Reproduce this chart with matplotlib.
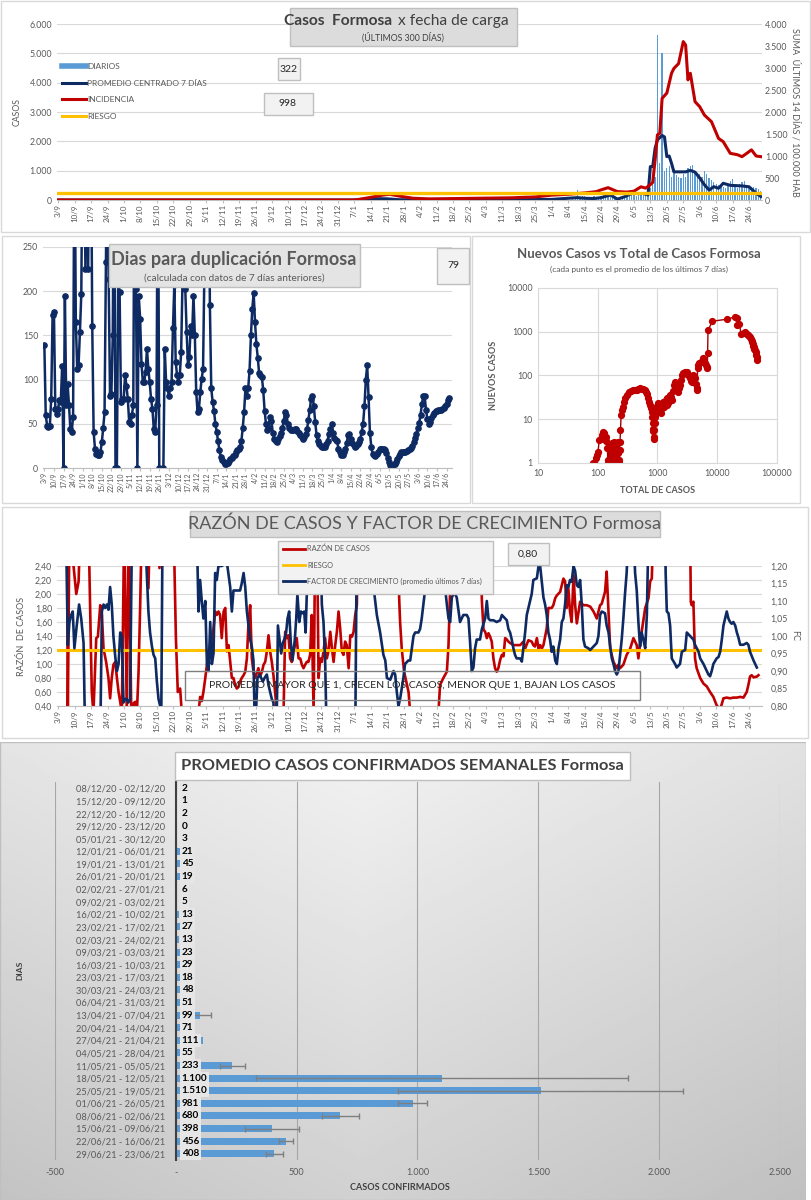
import matplotlib
matplotlib.use("Agg")
import matplotlib.pyplot as plt
import numpy as np
from matplotlib.lines import Line2D
from matplotlib.patches import Rectangle
from matplotlib.ticker import FuncFormatter

plt.rcParams["font.family"] = ["Lato", "DejaVu Sans"]

W, H = 812, 1200
NAVY = "#0E2A63"
RED = "#C00000"
YELLOW = "#FFC000"
LBLUE = "#5B9BD5"
GRID = "#D9D9D9"
TXT = "#595959"

# ---------------- data ----------------
# weekly tick labels, day 0 = 3/9/2020
semanas = ["3/9", "10/9", "17/9", "24/9", "1/10", "8/10", "15/10", "22/10", "29/10",
           "5/11", "12/11", "19/11", "26/11", "3/12", "10/12", "17/12", "24/12", "31/12",
           "7/1", "14/1", "21/1", "28/1", "4/2", "11/2", "18/2", "25/2", "4/3", "11/3",
           "18/3", "25/3", "1/4", "8/4", "15/4", "22/4", "29/4", "6/5", "13/5", "20/5",
           "27/5", "3/6", "10/6", "17/6", "24/6"]

# daily cases from 10/4/2021 (day 219) to 29/6/2021
diarios_inicio = 219
diarios = [60, 90, 340, 80, 120, 150, 90, 70, 110, 130, 90, 100, 140, 160, 120, 90, 110, 150, 80, 60, 100,
           120, 90, 140, 160, 180, 200, 150, 220, 250, 180, 240, 300, 420, 700, 800, 5620, 1250, 5000,
           1000, 1100, 1150, 800, 1050, 850, 780, 760, 900, 800, 1080, 1150, 1200,
           1000, 850, 900, 780, 1000, 870, 760, 680, 620, 560, 520, 480, 450, 420, 500, 650, 700, 480,
           400, 540, 600, 650, 450, 460, 420, 440, 400, 380, 300]

# 7-day centred average (day, cases)
prom7_pts = [(0, 0), (126, 0), (131, 30), (136, 45), (140, 40), (145, 10), (151, 5), (179, 10),
             (203, 15), (210, 20), (217, 60), (221, 80), (224, 60), (228, 50), (231, 80), (235, 170),
             (238, 30), (241, 110), (244, 220), (249, 220), (251, 170), (252, 1140), (253, 1140),
             (254, 1760), (255, 2050), (257, 2200), (258, 2150), (259, 1480), (260, 1500), (261, 1250),
             (262, 960), (267, 960), (269, 1010), (271, 950), (273, 750), (275, 520), (277, 340),
             (279, 455), (281, 400), (283, 570), (286, 500), (291, 480), (294, 450), (297, 230), (299, 120)]

# 14-day incidence per 100.000 (day, value)
inc_pts = [(0, 0), (125, 0), (127, 5), (133, 60), (138, 110), (141, 130), (145, 90), (151, 40),
           (158, 25), (165, 30), (179, 40), (193, 50), (203, 70), (210, 110), (217, 130), (224, 160),
           (229, 190), (231, 230), (234, 280), (238, 190), (242, 180), (245, 200), (248, 300),
           (250, 270), (252, 350), (253, 400), (254, 900), (255, 1480), (256, 1515), (257, 2310),
           (259, 2430), (261, 2880), (262, 2990), (264, 3100), (266, 3600), (267, 3520), (268, 2730),
           (269, 2880), (271, 2235), (273, 2120), (275, 1930), (278, 1780), (281, 1400), (283, 1325),
           (286, 1060), (289, 1030), (291, 985), (293, 1060), (295, 1140), (297, 1000), (299, 985)]
riesgo_inc = 160
valor_diario = "322"
valor_inc = "998"

# days to doubling, one value per day from 3/9/2020 (values > 250 are off-scale)
nan = np.nan
duplicacion = [139, 60, 48, 46, 48, 78, 173, 176, 67, 61,
               67, 77, 75, 115, 0, 195, 71, 95, 71, 44,
               41, 58, 400, 165, 112, 116, 154, 197, 400, 400,
               225, 400, 225, 400, 400, 161, 41, 22, 16, 15,
               15, 18, 29, 45, 63, 233, 400, 214, 82, 84,
               150, 400, 0, 0, 214, 199, 75, 78, 78, 105,
               93, 78, 52, 50, 60, 71, 400, 203, 0, 195,
               169, 118, 97, 97, 109, 135, 112, 97, 78, 67,
               44, 41, 71, 400, 0, nan, nan, 0, 135, 97,
               90, 82, 90, 97, 158, 207, 120, 105, 97, 105,
               131, 214, 400, 203, 154, 116, 126, 161, 150, 195,
               150, 86, 63, 67, 86, 101, 112, 225, 400, 400,
               400, 184, 90, 75, 65, 50, 41, 30, 20, 12,
               9, 7, 5, 5, 6, 8, 10, 11, 14, 15,
               18, 20, 22, 24, 30, 45, 63, 90, 82, 90,
               110, 150, 180, 198, 165, 140, 125, 107, 105, 103,
               88, 65, 50, 43, 45, 58, 53, 40, 33, 30,
               29, 33, 36, 40, 45, 53, 63, 60, 50, 45,
               43, 43, 43, 44, 44, 42, 40, 37, 35, 33,
               35, 38, 44, 54, 66, 78, 82, 70, 52, 37,
               30, 27, 25, 24, 24, 24, 27, 31, 38, 44,
               50, 40, 34, 32, 30, 22, 18, 15, 15, 18,
               22, 28, 37, 38, 33, 28, 26, 24, 25, 27,
               29, 33, 41, 50, 70, 100, 116, 80, 40, 24,
               16, 15, 14, 16, 18, 21, 22, 22, 22, 20,
               17, 11, 7, 3, 2, 3, 5, 7, 10, 14,
               16, 18, 18, 18, 18, 19, 20, 21, 23, 25,
               29, 34, 39, 45, 51, 60, 72, 82, 81, 66,
               55, 50, 52, 56, 60, 62, 64, 65, 66, 66,
               66, 67, 68, 70, 72, 77, 79]
valor_dup = "79"

# (total cases, new cases 7-day average)
nuevos_vs_total = [(84, 1.0), (88, 1.0), (93, 1.3), (97, 1.5), (101, 1.8), (106, 3.4), (112, 3.6),
                   (118, 4.4), (123, 5.1), (129, 4.9), (135, 4.0), (140, 3.2), (145, 2.2), (148, 1.0),
                   (150, 1.2), (155, 2.5), (158, 1.0), (162, 2.0), (166, 1.0), (170, 1.6), (175, 2.8),
                   (178, 1.0), (182, 1.8), (186, 1.2), (190, 3.0), (194, 1.0), (198, 2.2), (202, 1.4),
                   (206, 2.9), (210, 1.0), (215, 1.7), (220, 3.1), (224, 1.2), (228, 1.0), (232, 2.0),
                   (236, 3.1), (240, 5.7), (246, 12.6), (252, 16), (260, 19.5), (274, 25), (290, 31),
                   (303, 36), (334, 43), (360, 45), (392, 46), (420, 46), (446, 47), (480, 49),
                   (508, 51), (545, 50), (578, 49), (610, 46), (640, 43), (670, 38), (702, 30),
                   (725, 25), (749, 21), (770, 18), (798, 15), (815, 11), (830, 8.1), (845, 6),
                   (855, 5.3), (870, 4.0), (877, 3.6), (890, 5.7), (900, 8), (908, 11.5), (930, 14),
                   (967, 16.4), (1000, 20), (1030, 23), (1060, 17), (1100, 19.5), (1140, 14),
                   (1180, 17.8), (1220, 21), (1260, 25), (1300, 19), (1340, 23), (1380, 27),
                   (1430, 30), (1470, 21), (1520, 23), (1570, 30), (1620, 36), (1670, 32), (1720, 28),
                   (1800, 45), (1890, 61), (1970, 72), (2030, 62), (2100, 51), (2160, 47), (2240, 43),
                   (2300, 52), (2380, 61), (2450, 80), (2530, 102), (2690, 112), (2850, 118),
                   (3060, 122), (3300, 102), (3500, 86), (3600, 75), (3740, 72), (3850, 90),
                   (3980, 102), (4100, 95), (4240, 86), (4400, 65), (4540, 51), (4600, 47),
                   (4680, 146), (4850, 175), (5040, 189), (5300, 200), (5520, 206), (5700, 225),
                   (5880, 246), (6050, 215), (6250, 189), (6500, 170), (6680, 146), (6810, 158),
                   (6900, 320), (7000, 1080), (8320, 1740), (14500, 1935), (19950, 2190), (21000, 2100),
                   (21800, 1420), (23500, 1500), (25000, 912), (27500, 950), (29500, 1000), (31400, 912),
                   (33000, 850), (34500, 800), (35800, 766), (36800, 680), (37500, 620), (38000, 590),
                   (39000, 520), (39500, 480), (40800, 453), (41500, 400), (42500, 380), (43700, 350),
                   (44500, 290), (45500, 260), (46700, 225)]

# case ratio (day, value); 3.0 / 0.3 = off the 0,40-2,40 scale
razon_pts = [(3.7, 3.0), (4.1, 0.3), (4.8, 3.0), (7.7, 2.0), (8.7, 2.18), (9.4, 3.0), (12.9, 3.0),
             (14.3, 0.6), (15.0, 0.3), (16.2, 1.37), (16.9, 1.39), (17.9, 1.84), (18.6, 1.7),
             (19.3, 1.22), (20.4, 1.03), (21.4, 0.8), (22.1, 0.51), (22.8, 0.8), (23.5, 0.99),
             (24.3, 1.03), (25.0, 0.8), (25.7, 0.6), (26.4, 0.46), (27.1, 0.3), (28.1, 3.0),
             (29.2, 0.3), (30.0, 3.0), (31.1, 0.3), (32.1, 0.44), (32.8, 0.46), (33.5, 0.3),
             (34.2, 0.89), (34.9, 1.84), (35.6, 3.0), (37.7, 3.0), (38.4, 2.08), (39.1, 3.0),
             (42.7, 3.0), (43.1, 2.37), (44.1, 3.0), (49.1, 3.0), (50.1, 1.37), (50.9, 0.6),
             (51.9, 0.65), (52.6, 0.3), (59.7, 0.3), (60.4, 0.53), (61.1, 0.47), (61.8, 0.6),
             (62.6, 0.8), (63.3, 0.99), (64.0, 1.13), (64.7, 1.22), (66.1, 1.51), (66.8, 1.75),
             (67.5, 1.7), (68.2, 1.75), (68.9, 1.7), (69.6, 1.37), (70.4, 1.75), (71.1, 1.8),
             (71.8, 1.18), (72.5, 1.27), (73.2, 1.03), (73.9, 0.8), (74.6, 0.8), (75.3, 0.7),
             (76.0, 0.65), (76.7, 0.67), (77.4, 0.75), (78.1, 0.8), (78.9, 0.84), (79.6, 0.89),
             (80.3, 1.08), (81.0, 1.6), (81.7, 1.84), (82.4, 1.08), (83.1, 0.89), (83.8, 0.8),
             (84.5, 0.87), (85.2, 0.94), (85.9, 0.82), (86.7, 0.89), (87.4, 0.99), (88.1, 1.03),
             (88.8, 1.18), (89.5, 1.41), (90.2, 1.18), (90.9, 1.03), (91.6, 0.84), (92.3, 0.6),
             (93.1, 0.3), (95.9, 0.3), (96.6, 1.46), (97.3, 1.37), (98.0, 1.41), (98.7, 1.08),
             (99.4, 1.03), (100.1, 1.18), (100.8, 1.27), (101.5, 1.37), (102.3, 1.08), (103.0, 1.08),
             (103.7, 0.99), (104.4, 0.94), (105.1, 0.99), (105.8, 1.03), (106.5, 1.03), (107.2, 1.13),
             (107.9, 1.7), (108.7, 0.3), (109.4, 3.0), (110.1, 3.0), (110.8, 0.8), (111.5, 1.08),
             (112.2, 1.03), (112.9, 1.18), (113.6, 1.37), (114.3, 1.08), (115.0, 1.18), (115.8, 1.46),
             (116.5, 1.22), (117.2, 1.03), (117.9, 1.27), (118.6, 1.46), (119.3, 1.75), (120.0, 1.51),
             (120.7, 1.18), (121.4, 1.13), (122.1, 1.32), (122.8, 1.27), (123.6, 0.94), (124.3, 1.41),
             (125.0, 1.39), (125.7, 1.46), (126.4, 1.7), (127.1, 1.84), (127.6, 3.0), (144.8, 3.0),
             (145.1, 1.94), (145.5, 1.6), (146.2, 1.22), (147.2, 0.89), (148.1, 0.75), (149.1, 0.6),
             (149.8, 0.3), (161.8, 0.3), (162.5, 0.7), (163.9, 0.8), (165.4, 0.89), (166.1, 1.27),
             (166.8, 2.08), (167.5, 3.0), (179.5, 3.0), (180.3, 1.9), (181.0, 1.49), (181.7, 1.46),
             (182.4, 1.37), (183.1, 1.44), (183.8, 1.39), (184.5, 1.32), (185.2, 1.08), (185.9, 0.94),
             (186.6, 0.89), (187.3, 0.94), (188.1, 1.06), (188.8, 1.13), (189.5, 1.11), (190.2, 1.37),
             (190.9, 1.35), (191.6, 1.32), (192.3, 1.3), (193.7, 1.27), (195.1, 1.27), (196.6, 1.27),
             (198.0, 1.32), (198.7, 1.22), (200.1, 1.34), (201.5, 1.32), (202.2, 1.27), (202.9, 1.25),
             (203.7, 1.37), (204.4, 1.22), (205.1, 1.27), (205.8, 1.22), (206.5, 1.27), (207.9, 1.51),
             (208.6, 1.8), (210.0, 1.8), (210.7, 1.84), (211.5, 1.94), (212.2, 1.98), (213.6, 2.03),
             (215.0, 2.22), (215.7, 2.18), (216.4, 1.8), (217.1, 2.08), (217.8, 1.75), (218.5, 1.6),
             (219.3, 2.27), (220.0, 1.84), (220.7, 1.58), (222.1, 1.89), (223.5, 1.84), (224.9, 1.84),
             (226.4, 1.82), (227.8, 1.75), (229.2, 1.65), (229.9, 1.75), (230.6, 1.84), (231.3, 1.86),
             (232.7, 2.03), (233.4, 2.32), (234.2, 1.75), (234.9, 1.22), (236.3, 1.03), (237.7, 0.94),
             (238.4, 0.99), (239.1, 0.94), (240.5, 0.99), (241.9, 1.13), (243.4, 1.22), (244.8, 1.37),
             (246.2, 1.27), (246.9, 1.08), (247.6, 1.27), (248.3, 1.46), (249.8, 1.8), (251.2, 1.94),
             (251.9, 2.18), (252.6, 2.22), (253.3, 3.0), (268.9, 3.0), (269.2, 1.89), (269.6, 1.84),
             (270.3, 1.89), (271.0, 1.08), (271.7, 0.94), (273.2, 0.8), (274.6, 0.72), (276.0, 0.68),
             (277.4, 0.6), (278.8, 0.53), (280.2, 0.41), (281.7, 0.35), (283.1, 0.51), (284.5, 0.52),
             (285.9, 0.51), (287.3, 0.52), (288.8, 0.52), (290.2, 0.53), (291.6, 0.52), (293.0, 0.6),
             (293.7, 0.7), (294.4, 0.82), (295.1, 0.84), (295.9, 0.81), (297.3, 0.82), (298.0, 0.84)]
riesgo_razon = 1.2
valor_fc = "0,80"

# growth factor, 7-day average (day, value); 1.3 / 0.7 = off the 0,80-1,20 scale
fc_pts = [(3.4, 1.3), (4.1, 0.974), (4.8, 1.04), (5.5, 1.06), (6.2, 1.07), (6.9, 0.965), (7.9, 1.03),
          (8.9, 1.09), (9.8, 1.05), (10.8, 0.98), (11.5, 0.7), (17.9, 0.7), (18.6, 1.07), (19.3, 1.09),
          (20.0, 1.08), (20.7, 1.09), (21.4, 1.075), (22.1, 1.14), (22.8, 1.09), (23.5, 1.0),
          (24.3, 0.94), (25.0, 0.9), (25.7, 0.92), (26.4, 1.01), (27.1, 1.0), (27.8, 0.81),
          (28.5, 0.82), (29.2, 0.82), (29.9, 0.81), (30.6, 0.82), (31.4, 1.3), (37.0, 1.3),
          (37.7, 1.18), (38.4, 1.07), (39.1, 1.01), (39.9, 0.97), (40.6, 0.946), (41.3, 0.936),
          (42.0, 0.87), (42.7, 0.82), (43.4, 0.8), (43.8, 0.7), (44.4, 1.3), (59.0, 1.3),
          (59.7, 1.07), (60.4, 1.16), (61.1, 1.1), (61.8, 1.05), (62.6, 1.1), (63.3, 0.92),
          (64.0, 0.9), (64.7, 1.04), (65.4, 0.92), (66.1, 0.95), (66.8, 1.18), (67.5, 1.16),
          (68.2, 1.2), (69.6, 1.2), (71.8, 1.21), (73.2, 1.14), (73.9, 1.07), (74.6, 1.13),
          (76.0, 1.13), (77.4, 1.13), (78.1, 1.15), (78.9, 1.18), (79.6, 1.14), (80.3, 1.07),
          (81.0, 1.03), (81.7, 0.99), (82.4, 0.97), (83.1, 0.93), (83.8, 0.7), (84.3, 0.8),
          (84.8, 0.88), (85.7, 0.89), (86.4, 0.88), (87.1, 0.87), (87.8, 0.88), (88.8, 0.89),
          (89.5, 0.86), (90.2, 0.84), (90.9, 0.82), (91.6, 0.81), (92.3, 0.7), (93.1, 0.81),
          (93.5, 1.03), (94.2, 0.99), (94.9, 0.95), (95.6, 0.98), (96.2, 0.99), (97.0, 1.01),
          (97.6, 1.05), (98.3, 1.07), (99.0, 0.98), (99.7, 0.93), (100.1, 0.955), (100.7, 0.99),
          (101.3, 1.05), (101.8, 1.12), (102.6, 1.04), (103.3, 1.07), (104.0, 1.065), (104.7, 1.07),
          (105.3, 1.01), (105.8, 1.12), (106.5, 1.3), (111.5, 1.3), (112.2, 1.09), (112.9, 1.04),
          (113.6, 0.93), (114.3, 0.7), (126.4, 0.7), (127.1, 1.3), (133.5, 1.3), (134.2, 1.14),
          (135.6, 1.06), (137.0, 1.01), (138.4, 0.946), (139.2, 0.93), (139.9, 0.88), (141.3, 0.875),
          (142.7, 0.9), (143.4, 0.89), (144.1, 0.84), (144.8, 0.8), (145.5, 0.82), (146.9, 0.88),
          (147.6, 0.92), (149.0, 0.93), (149.8, 0.93), (150.5, 0.965), (151.2, 1.0), (151.9, 1.01),
          (153.3, 1.01), (154.0, 1.02), (154.7, 1.05), (155.4, 1.09), (156.1, 1.13), (156.9, 1.2),
          (157.1, 1.3), (163.9, 1.3), (164.6, 1.14), (165.4, 1.09), (166.1, 1.05), (166.8, 1.04),
          (167.5, 1.11), (168.2, 1.12), (168.9, 1.12), (169.6, 1.11), (171.0, 1.04), (172.4, 1.06),
          (173.9, 1.06), (174.6, 1.05), (175.3, 0.98), (176.0, 0.9), (176.7, 0.91), (177.4, 0.965),
          (178.1, 0.99), (179.5, 0.99), (180.3, 1.02), (181.7, 1.05), (182.4, 1.1), (183.1, 1.05),
          (183.8, 1.045), (185.2, 1.045), (186.6, 1.04), (188.1, 1.045), (188.8, 1.06), (190.2, 1.05),
          (190.9, 1.045), (191.6, 1.02), (192.3, 1.01), (193.0, 0.99), (193.7, 0.965), (194.4, 0.946),
          (195.1, 0.936), (196.6, 0.936), (197.3, 0.927), (198.7, 1.01), (199.4, 1.06), (200.1, 1.08),
          (201.5, 1.12), (202.2, 1.16), (203.7, 1.165), (204.4, 1.2), (205.1, 1.2), (205.8, 1.155),
          (206.5, 1.11), (207.2, 1.09), (207.9, 1.06), (208.6, 1.01), (209.3, 0.99), (210.0, 0.955),
          (210.7, 0.97), (211.5, 0.93), (212.2, 0.92), (212.9, 0.965), (213.6, 0.99), (214.3, 1.04),
          (215.0, 1.05), (215.7, 1.09), (216.4, 1.145), (217.1, 1.14), (217.8, 1.16), (218.5, 1.155),
          (219.3, 1.2), (220.0, 1.185), (220.7, 1.145), (221.4, 1.14), (222.1, 1.16), (222.8, 1.09),
          (223.5, 0.99), (224.2, 0.97), (225.6, 0.965), (226.4, 0.96), (227.8, 0.97), (229.2, 0.98),
          (229.9, 1.0), (230.6, 1.06), (231.3, 1.07), (232.7, 1.065), (233.4, 1.03), (234.2, 1.01),
          (234.9, 0.97), (235.6, 0.936), (236.3, 0.92), (237.0, 0.9), (237.7, 0.89), (238.4, 0.9),
          (239.1, 0.946), (239.8, 0.99), (240.5, 1.05), (241.2, 1.12), (241.9, 1.18), (242.7, 1.3),
          (244.8, 1.3), (245.5, 1.18), (246.2, 1.13), (246.9, 1.04), (247.6, 0.97), (248.3, 1.01),
          (249.0, 0.99), (249.8, 0.965), (250.5, 1.06), (251.2, 1.3), (258.3, 1.3), (258.5, 1.18),
          (259.0, 1.07), (259.7, 1.065), (260.4, 1.03), (261.1, 0.936), (262.5, 0.92), (263.2, 0.91),
          (264.6, 0.92), (265.4, 0.955), (266.8, 0.96), (267.5, 1.01), (268.9, 1.0), (270.3, 0.99),
          (271.0, 0.975), (272.5, 0.955), (273.2, 0.936), (274.6, 0.92), (276.0, 0.9), (276.7, 0.89),
          (277.4, 0.885), (278.1, 0.9), (278.8, 0.92), (280.2, 0.936), (281.0, 0.94), (281.7, 0.955),
          (282.4, 0.99), (283.1, 1.03), (283.8, 1.05), (284.5, 1.07), (285.2, 1.05), (285.9, 1.04),
          (286.6, 1.035), (287.3, 1.04), (288.1, 1.03), (288.8, 1.01), (289.5, 0.995), (290.2, 0.975),
          (291.6, 0.975), (293.0, 0.98), (293.7, 0.975), (294.4, 0.955), (295.9, 0.93), (297.3, 0.91)]

# weekly average of confirmed cases
semanas_conf = ["08/12/20 - 02/12/20", "15/12/20 - 09/12/20", "22/12/20 - 16/12/20",
                "29/12/20 - 23/12/20", "05/01/21 - 30/12/20", "12/01/21 - 06/01/21",
                "19/01/21 - 13/01/21", "26/01/21 - 20/01/21", "02/02/21 - 27/01/21",
                "09/02/21 - 03/02/21", "16/02/21 - 10/02/21", "23/02/21 - 17/02/21",
                "02/03/21 - 24/02/21", "09/03/21 - 03/03/21", "16/03/21 - 10/03/21",
                "23/03/21 - 17/03/21", "30/03/21 - 24/03/21", "06/04/21 - 31/03/21",
                "13/04/21 - 07/04/21", "20/04/21 - 14/04/21", "27/04/21 - 21/04/21",
                "04/05/21 - 28/04/21", "11/05/21 - 05/05/21", "18/05/21 - 12/05/21",
                "25/05/21 - 19/05/21", "01/06/21 - 26/05/21", "08/06/21 - 02/06/21",
                "15/06/21 - 09/06/21", "22/06/21 - 16/06/21", "29/06/21 - 23/06/21"]
prom_semanal = [2, 1, 2, 0, 3, 21, 45, 19, 6, 5, 13, 27, 13, 23, 29, 18, 48, 51, 99, 71, 111, 55,
                233, 1100, 1510, 981, 680, 398, 456, 408]
error_semanal = [0, 0, 0, 0, 0, 0, 0, 0, 0, 0, 0, 0, 0, 0, 0, 0, 0, 0, 48, 0, 0, 0,
                 52, 770, 590, 60, 77, 111, 29, 36]


# ---------------- helpers ----------------
def miles(v, _=None):
    return f"{v:,.0f}".replace(",", ".")


def coma(v, _=None):
    return f"{v:.2f}".replace(".", ",")


fig = plt.figure(figsize=(W / 100, H / 100), dpi=100)


def axes_px(x0, y0, x1, y1):
    return fig.add_axes([x0 / W, 1 - y1 / H, (x1 - x0) / W, (y1 - y0) / H])


def box_px(x0, y0, x1, y1, fc="none", ec="#D9D9D9", lw=1.0, z=0):
    fig.patches.append(Rectangle((x0 / W, 1 - y1 / H), (x1 - x0) / W, (y1 - y0) / H,
                                 transform=fig.transFigure, fc=fc, ec=ec, lw=lw, zorder=z))


def text_px(x, y, s, **kw):
    kw.setdefault("ha", "center")
    kw.setdefault("va", "center")
    fig.text(x / W, 1 - y / H, s, **kw)


def estilo(ax, grid_axis="y"):
    for s in ax.spines.values():
        s.set_visible(False)
    ax.spines["bottom"].set_visible(True)
    ax.spines["bottom"].set_color("#BFBFBF")
    ax.tick_params(colors=TXT, labelsize=6.3, length=0)
    ax.grid(axis=grid_axis, color=GRID, lw=0.8)
    ax.set_axisbelow(True)


def ejes_fecha(ax, size=5.8):
    ax.set_xticks(np.arange(len(semanas)) * 7)
    ax.set_xticklabels(semanas, rotation=90)
    ax.tick_params(axis="x", length=2, color="#BFBFBF", labelsize=size, pad=1)


# panel frames
box_px(1, 1, 810, 232)
box_px(2, 236, 470, 503)
box_px(472, 236, 800, 503)
box_px(2, 507, 808, 738)

# ---------------- panel 1: cases by load date ----------------
ax1 = axes_px(57, 24, 762, 200)
estilo(ax1)
dias_diarios = diarios_inicio + np.arange(len(diarios))
ax1.bar(dias_diarios, diarios, width=0.55, color=LBLUE, zorder=2)
pd7 = np.array(prom7_pts).T
ax1.plot(pd7[0], pd7[1], color=NAVY, lw=2.2, zorder=3)
ax1.set_xlim(-0.5, 299.5)
ax1.set_ylim(0, 6000)
ax1.set_yticks(np.arange(0, 6001, 1000))
ax1.yaxis.set_major_formatter(FuncFormatter(miles))
ejes_fecha(ax1)
ax1.set_ylabel("CASOS", fontsize=6.3, color=TXT, labelpad=6)

ax1b = ax1.twinx()
for s in ax1b.spines.values():
    s.set_visible(False)
pin = np.array(inc_pts).T
ax1b.plot(pin[0], pin[1], color=RED, lw=2.2, zorder=3)
ax1b.axhline(riesgo_inc, color=YELLOW, lw=2.4, zorder=4)
ax1b.set_ylim(0, 4000)
ax1b.set_yticks(np.arange(0, 4001, 500))
ax1b.yaxis.set_major_formatter(FuncFormatter(miles))
ax1b.tick_params(colors=TXT, labelsize=6.3, length=0, pad=2)
ax1b.set_ylabel("SUMA  ÚLTIMOS 14 DÍAS / 100.000 HAB", fontsize=6.5, color=TXT,
                rotation=270, labelpad=9)

handles = [Line2D([], [], color=LBLUE, lw=4), Line2D([], [], color=NAVY, lw=2.2),
           Line2D([], [], color=RED, lw=2.2), Line2D([], [], color=YELLOW, lw=2.2)]
fig.legend(handles, ["DIARIOS", "PROMEDIO CENTRADO 7 DÍAS", "INCIDENCIA", "RIESGO"],
           loc="upper left", bbox_to_anchor=(62 / W, 1 - 63 / H), frameon=False,
           fontsize=6, handlelength=2.9, handletextpad=0.1, labelspacing=1.15,
           borderaxespad=0, borderpad=0, labelcolor=TXT)

box_px(290, 8, 517, 46, fc="#DCDCDC", ec="#BFBFBF", z=3)
text_px(392, 21, "Casos  Formosa", ha="right", fontsize=11.2, fontweight="bold", color="#404040", zorder=4)
text_px(398, 21, "x fecha de carga", ha="left", fontsize=11.2, color="#404040", zorder=4)
text_px(403, 37, "(ÚLTIMOS 300 DÍAS)", fontsize=6.3, color="#404040", zorder=4)
box_px(278, 58, 300, 80, fc="#F2F2F2", ec="#BFBFBF", z=3)
text_px(289, 69, valor_diario, fontsize=7.5, color="#262626", zorder=4)
box_px(264, 93, 313, 115, fc="#F2F2F2", ec="#BFBFBF", z=3)
text_px(288, 104, valor_inc, fontsize=7.5, color="#262626", zorder=4)

# ---------------- panel 2: doubling time ----------------
ax2 = axes_px(43, 247, 452, 468)
estilo(ax2)
ax2.plot(np.arange(len(duplicacion)), duplicacion, color=NAVY, lw=1.8,
         marker="o", ms=3.8, mec=NAVY, mfc=NAVY)
ax2.set_xlim(-1, 298)
ax2.set_ylim(0, 250)
ax2.set_yticks(np.arange(0, 251, 50))
ejes_fecha(ax2, size=5)

box_px(109, 244, 360, 287, fc="#E4E4E4", ec="#BFBFBF", z=3)
text_px(234, 260, "Dias para duplicación Formosa", fontsize=13, fontweight="bold", color="#595959", zorder=4)
text_px(234, 278, "(calculada con datos de 7 días anteriores)", fontsize=7.2, color="#595959", zorder=4)
box_px(437, 248, 469, 284, fc="#F2F2F2", ec="#BFBFBF", z=3)
text_px(453, 266, valor_dup, fontsize=7.5, color="#262626", zorder=4)

# ---------------- panel 3: new vs total ----------------
ax3 = axes_px(538, 288, 777, 463)
nt = np.array(nuevos_vs_total).T
ax3.plot(nt[0], nt[1], color="#A50000", lw=1.0, marker="o", ms=4.2, mfc=RED, mec=RED)
ax3.set_xscale("log")
ax3.set_yscale("log")
ax3.set_xlim(10, 100000)
ax3.set_ylim(1, 10000)
ax3.set_xticks([10, 100, 1000, 10000, 100000])
ax3.set_xticklabels(["10", "100", "1000", "10000", "100000"])
ax3.set_yticks([1, 10, 100, 1000, 10000])
ax3.set_yticklabels(["1", "10", "100", "1000", "10000"])
ax3.minorticks_off()
ax3.grid(color=GRID, lw=0.8)
ax3.set_axisbelow(True)
for s in ax3.spines.values():
    s.set_color(GRID)
ax3.tick_params(colors=TXT, labelsize=6.3, length=0, pad=4)
ax3.set_xlabel("TOTAL DE CASOS", fontsize=6.5, fontweight="bold", color=TXT, labelpad=6)
ax3.set_ylabel("NUEVOS CASOS", fontsize=6.5, fontweight="bold", color=TXT, labelpad=6)
text_px(639, 254, "Nuevos Casos vs Total de Casos Formosa", fontsize=9.5, fontweight="bold", color="#595959")
text_px(639, 269, "(cada punto es el promedio de los últimos 7 días)", fontsize=6, color="#595959")

# ---------------- panel 4: case ratio and growth factor ----------------
ax4 = axes_px(57, 566, 762, 706)
estilo(ax4)
rz = np.array(razon_pts).T
ax4.plot(rz[0], rz[1], color=RED, lw=1.9, zorder=2)
ax4.axhline(riesgo_razon, color=YELLOW, lw=2.2, zorder=3)
ax4.set_xlim(-0.5, 299.5)
ax4.set_ylim(0.4, 2.4)
ax4.set_yticks(np.arange(0.4, 2.41, 0.2))
ax4.yaxis.set_major_formatter(FuncFormatter(coma))
ejes_fecha(ax4)
ax4.set_ylabel("RAZÓN  DE CASOS", fontsize=6.5, color=TXT, labelpad=6)

ax4b = ax4.twinx()
for s in ax4b.spines.values():
    s.set_visible(False)
fcv = np.array(fc_pts).T
ax4b.plot(fcv[0], fcv[1], color=NAVY, lw=1.9, zorder=3)
ax4b.set_ylim(0.8, 1.2)
ax4b.set_yticks(np.arange(0.8, 1.201, 0.05))
ax4b.yaxis.set_major_formatter(FuncFormatter(coma))
ax4b.tick_params(colors=TXT, labelsize=6.3, length=0, pad=6)
ax4b.set_ylabel("FC", fontsize=6.5, color=TXT, rotation=270, labelpad=8)

box_px(190, 511, 660, 537, fc="#DCDCDC", ec="#BFBFBF", z=3)
text_px(425, 524, "RAZÓN DE CASOS Y FACTOR DE CRECIMIENTO Formosa", fontsize=13, color="#595959", zorder=4)
box_px(278, 541, 493, 594, fc="#F2F2F2", ec="#BFBFBF", z=3)
leg3 = fig.legend([Line2D([], [], color=RED, lw=2), Line2D([], [], color=YELLOW, lw=2),
                   Line2D([], [], color=NAVY, lw=2)],
                  ["RAZÓN DE CASOS", "RIESGO", "FACTOR DE CRECIMIENTO (promedio últimos 7 días)"],
                  loc="upper left", bbox_to_anchor=(283 / W, 1 - 545 / H), frameon=False,
                  fontsize=5.3, handlelength=3.0, handletextpad=0.3, labelspacing=1.25,
                  borderaxespad=0, borderpad=0, labelcolor=TXT)
leg3.set_zorder(5)
box_px(508, 543, 549, 565, fc="#F2F2F2", ec="#BFBFBF", z=3)
text_px(528, 554, valor_fc, fontsize=7.5, color="#262626", zorder=4)
box_px(185, 671, 640, 700, fc="none", ec="#7F7F7F", z=6)
text_px(412, 686, "PROMEDIO MAYOR QUE 1, CRECEN LOS CASOS, MENOR QUE 1, BAJAN LOS CASOS",
        fontsize=7.5, color="#262626", zorder=6)

# ---------------- panel 5: weekly averages ----------------
bg = axes_px(0, 742, 806, 1200)
gx, gy = np.meshgrid(np.linspace(0, 1, 200), np.linspace(0, 1, 200))
shade = 0.95 - 0.13 * gy - 0.12 * np.abs(gx - 0.45)
bg.imshow(shade, cmap="gray", vmin=0, vmax=1, aspect="auto", extent=(0, 1, 0, 1))
bg.set_xlim(0, 1)
bg.set_ylim(0, 1)
bg.axis("off")
bg.add_patch(Rectangle((0, 0), 1, 1, transform=bg.transAxes, fc="none", ec="#BFBFBF", lw=1))

ax5 = axes_px(55, 782, 780, 1160)
ax5.patch.set_visible(False)
filas = np.arange(len(semanas_conf))
ax5.barh(filas, prom_semanal, height=0.55, color=LBLUE, zorder=2)
con_err = [i for i, e in enumerate(error_semanal) if e > 0]
ax5.errorbar([prom_semanal[i] for i in con_err], con_err, xerr=[error_semanal[i] for i in con_err],
             fmt="none", ecolor="#7F7F7F", elinewidth=1, capsize=2.5, capthick=1, zorder=3)
for i, v in enumerate(prom_semanal):
    ax5.text(24, i, miles(v), fontsize=7.2, fontweight="bold", color="#000000", va="center", ha="left",
             zorder=5, bbox=dict(boxstyle="square,pad=0.18", fc="#E6E6E6", ec="none"))
ax5.set_ylim(len(semanas_conf) - 0.5, -0.5)
ax5.set_xlim(-500, 2500)
ax5.set_yticks(filas)
ax5.set_yticklabels(semanas_conf)
ax5.set_xticks([-500, 0, 500, 1000, 1500, 2000, 2500])
ax5.set_xticklabels(["-500", "-", "500", "1.000", "1.500", "2.000", "2.500"])
for s in ax5.spines.values():
    s.set_visible(False)
ax5.spines["left"].set_visible(True)
ax5.spines["left"].set_position(("data", 0))
ax5.spines["left"].set_color("#404040")
ax5.spines["left"].set_linewidth(1.5)
ax5.grid(axis="x", color="#A6A6A6", lw=0.8)
ax5.set_axisbelow(True)
ax5.tick_params(axis="y", colors=TXT, labelsize=6.7, length=0, pad=8)
ax5.tick_params(axis="x", colors=TXT, labelsize=6.5, length=0, pad=6)
text_px(400, 1187, "CASOS CONFIRMADOS", fontsize=6.5, fontweight="bold", color="#404040")
text_px(20, 970, "DIAS", fontsize=6, fontweight="bold", color="#404040", rotation=90)

box_px(175, 752, 630, 780, fc="#FFFFFF", ec="#BFBFBF", z=3)
text_px(402, 766, "PROMEDIO CASOS CONFIRMADOS SEMANALES Formosa", fontsize=11.8,
        fontweight="bold", color="#404040", zorder=4)

fig.savefig("out.png", dpi=100)
